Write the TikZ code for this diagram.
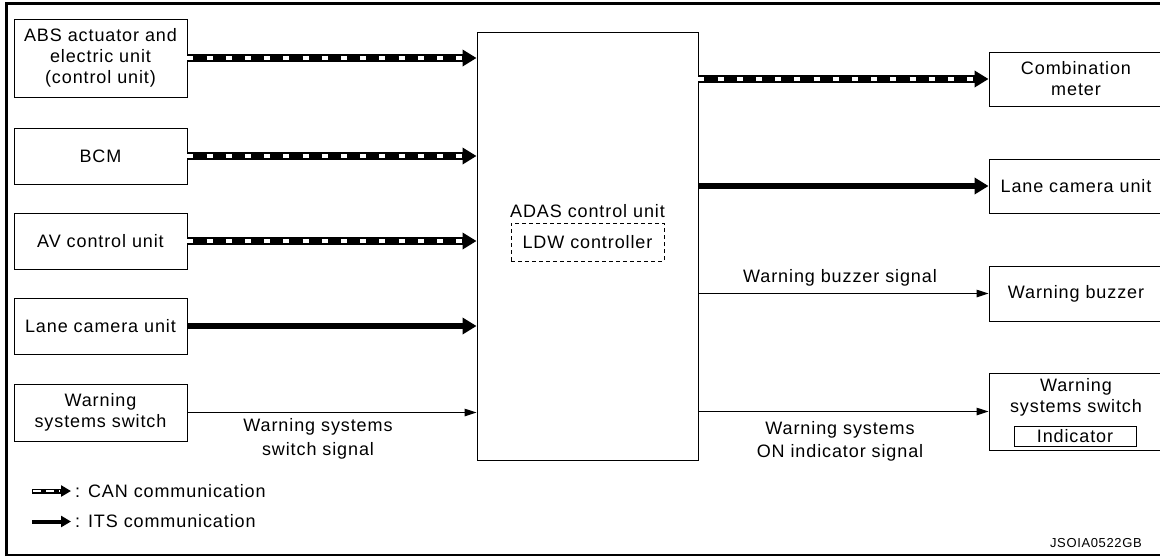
\documentclass[tikz,border=0pt]{standalone}
\usepackage{fontspec}
\setmainfont{Liberation Sans}[LetterSpace=5]
\usetikzlibrary{arrows.meta}
\newcommand{\canlink}[2]{%
  \draw[canline] (#1) -- (#2);
  \draw[canwhite] (#1) -- (#2);}
\begin{document}
\begin{tikzpicture}[x=1pt,y=-1pt,
  txt/.style={font=\fontsize{18}{21}\selectfont, align=center, inner sep=0pt},
  box/.style={txt, draw, line width=0.9pt},
  canline/.style={line width=7.5pt, -{Triangle[length=14pt,width=16pt]}},
  canwhite/.style={white, line width=3.6pt, dash pattern=on 6pt off 13.2pt, shorten >=15pt},
  itsline/.style={line width=5.5pt, -{Triangle[length=14pt,width=16pt]}},
  thinline/.style={line width=1pt, -{Triangle[length=12pt,width=7.5pt]}}]
\clip (0,0) rectangle (1160,558);
\fill[white] (0,0) rectangle (1160,558);
% frame
\draw[line width=3.5pt] (6.5,556) -- (6.5,3.5) -- (1162,3.5);
\draw[line width=2pt] (5,555) -- (1162,555);
% left boxes
\node[box, minimum width=173pt, minimum height=78pt] (abs) at (100.5,58) {ABS actuator and\\electric unit\\(control unit)};
\node[box, minimum width=173pt, minimum height=56pt] (bcm) at (100.5,156) {BCM};
\node[box, minimum width=173pt, minimum height=56pt] (av) at (100.5,241) {AV control unit};
\node[box, minimum width=173pt, minimum height=56pt] (lcl) at (100.5,326) {Lane camera unit};
\node[box, minimum width=173pt, minimum height=57pt] (wsl) at (100.5,412.5) {Warning\\systems switch};
% ADAS
\node[box, minimum width=221pt, minimum height=428pt] (adas) at (587.5,246) {};
\node[txt] (adastxt) at (587.5,211) {ADAS control unit};
\node[box, dashed, dash pattern=on 4pt off 3pt, minimum width=153pt, minimum height=38pt] (ldw) at (587.5,242) {LDW controller};
% right boxes
\node[box, minimum width=174pt, minimum height=54pt] (cm) at (1076,79) {Combination\\meter};
\node[box, minimum width=174pt, minimum height=54pt] (lcr) at (1076,186) {Lane camera unit};
\node[box, minimum width=174pt, minimum height=55pt] (wb) at (1076,293.5) {Warning buzzer};
\node[box, minimum width=174pt, minimum height=77pt] (wsr) at (1076,411.5) {};
\node[txt] (wsrtxt) at (1076,397) {Warning\\systems switch};
\node[box, minimum width=122pt, minimum height=20pt] (ind) at (1075,436) {Indicator};
% connectors left
\canlink{abs.east}{abs.east -| adas.west}
\canlink{bcm.east}{bcm.east -| adas.west}
\canlink{av.east}{av.east -| adas.west}
\draw[itsline] (lcl.east) -- (lcl.east -| adas.west);
\draw[thinline] (wsl.east) -- (wsl.east -| adas.west);
% connectors right
\canlink{adas.east |- cm.west}{cm.west}
\draw[itsline] (adas.east |- lcr.west) -- (lcr.west);
\draw[thinline] (adas.east |- wb.west) -- (wb.west);
\draw[thinline] (adas.east |- wsr.west) -- (wsr.west);
% labels
\node[txt, font=\fontsize{18}{24}\selectfont] (lbl1) at (318,438.5) {Warning systems\\switch signal};
\node[txt] (lbl2) at (840,278) {Warning buzzer signal};
\node[txt, font=\fontsize{18}{23}\selectfont] (lbl3) at (840,441) {Warning systems\\ON indicator signal};
% legend
\coordinate (lg1a) at (32,491);
\coordinate (lg1b) at (71,491);
\draw[line width=5pt, -{Triangle[length=10pt,width=11pt]}] (lg1a) -- (lg1b);
\draw[white, line width=2.5pt, dash pattern=on 8pt off 5pt, shorten >=11pt, shorten <=1pt] (lg1a) -- (lg1b);
\node[txt, anchor=west] (lgt1) at (75,491) {: CAN communication};
\coordinate (lg2a) at (32,521.5);
\coordinate (lg2b) at (71,521.5);
\draw[line width=4pt, -{Triangle[length=10pt,width=11pt]}] (lg2a) -- (lg2b);
\node[txt, anchor=west] (lgt2) at (75,521.5) {: ITS communication};
\node[txt, font=\fontsize{13}{15}\selectfont, anchor=east] (code) at (1142,543) {JSOIA0522GB};
\end{tikzpicture}
\end{document}
